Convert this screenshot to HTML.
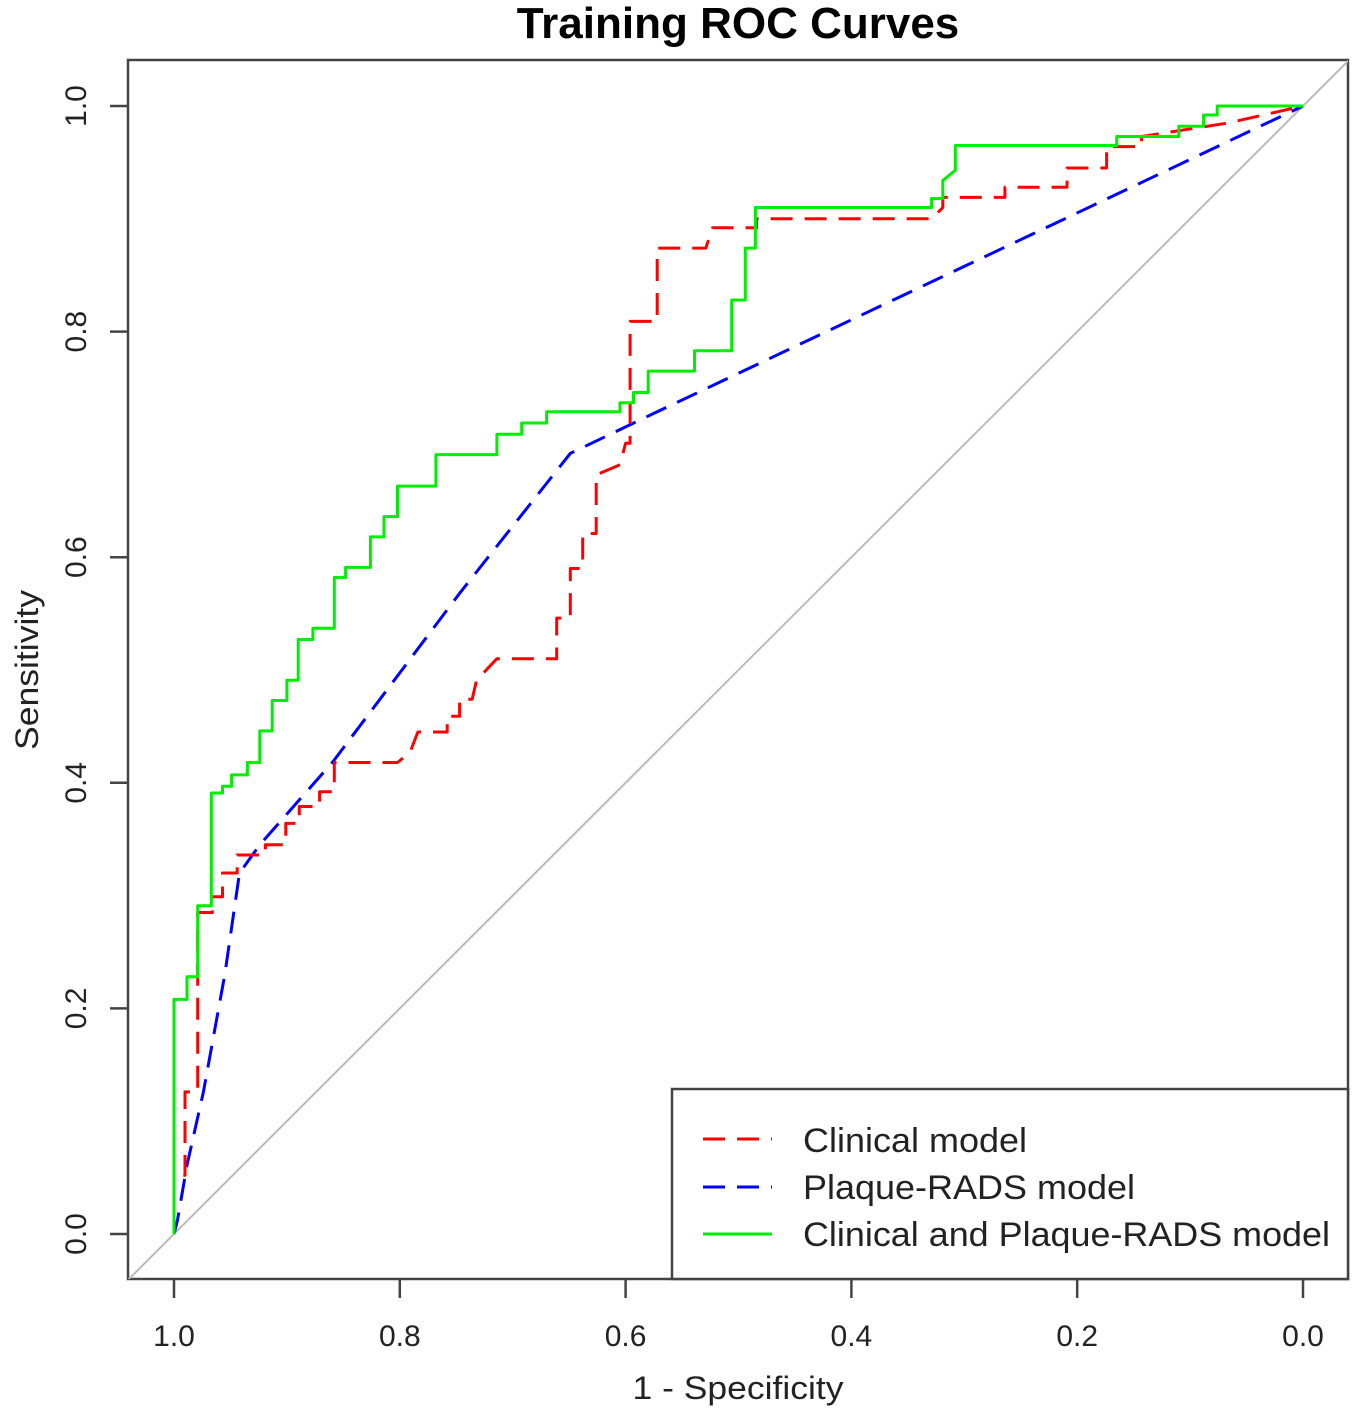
<!DOCTYPE html>
<html><head><meta charset="utf-8"><style>
html,body{margin:0;padding:0;background:#fff;}
svg text{font-family:"Liberation Sans",Arial,sans-serif;fill:#222;}
</style></head><body>
<svg id="chart" width="1356" height="1413" viewBox="0 0 1356 1413" xmlns="http://www.w3.org/2000/svg">
<defs><clipPath id="plotclip"><rect x="128" y="60" width="1220" height="1219"/></clipPath></defs>
<text x="738" y="38" font-size="44" font-weight="bold" text-anchor="middle" style="fill:#000">Training ROC Curves</text>
<rect x="128" y="60" width="1220" height="1219" fill="none" stroke="#444" stroke-width="2.5"/>
<g id="axes"></g>
<line id="diag" stroke="#bbb" stroke-width="2" clip-path="url(#plotclip)"/>
<g id="series" clip-path="url(#plotclip)"></g>
<g>
<rect x="672" y="1089" width="676" height="190" fill="#fff" stroke="#444" stroke-width="2.5"/>
<line x1="703" y1="1139" x2="772" y2="1139" stroke="#ff0000" stroke-width="3" stroke-dasharray="22,12"/>
<text x="803" y="1152" font-size="34" textLength="224" lengthAdjust="spacingAndGlyphs">Clinical model</text>
<line x1="703" y1="1187" x2="772" y2="1187" stroke="#0000ff" stroke-width="3" stroke-dasharray="22,12"/>
<text x="803" y="1199" font-size="34" textLength="332" lengthAdjust="spacingAndGlyphs">Plaque-RADS model</text>
<line x1="703" y1="1234" x2="772" y2="1234" stroke="#00ee00" stroke-width="3"/>
<text x="803" y="1246" font-size="34" textLength="527" lengthAdjust="spacingAndGlyphs">Clinical and Plaque-RADS model</text>
</g>
<text x="738" y="1399" font-size="32" text-anchor="middle" textLength="211" lengthAdjust="spacingAndGlyphs">1 - Specificity</text>
<text transform="translate(38,670) rotate(-90)" font-size="32" text-anchor="middle" textLength="160" lengthAdjust="spacingAndGlyphs">Sensitivity</text>
</svg>
<script>
// false positive rate (1 - specificity) and sensitivity
const xTicks = [1.0, 0.8, 0.6, 0.4, 0.2, 0.0];
const yTicks = [0.0, 0.2, 0.4, 0.6, 0.8, 1.0];
const xTickLabels = ["1.0","0.8","0.6","0.4","0.2","0.0"];
const yTickLabels = ["0.0","0.2","0.4","0.6","0.8","1.0"];
const clinicalFpr = [0,0,.0097,.0097,.021,.021,.034,.034,.043,.043,.056,.056,.081,.081,.099,.099,.111,.111,.129,.129,.142,.142,.198,.209,.216,.242,.242,.253,.253,.264,.268,.286,.339,.339,.351,.351,.362,.362,.374,.374,.395,.400,.404,.404,.428,.428,.471,.477,.516,.516,.671,.681,.681,.736,.736,.791,.791,.826,.826,.857,.857,.934,1];
const clinicalSens = [0,.052,.052,.126,.126,.285,.285,.299,.299,.320,.320,.336,.336,.345,.345,.364,.364,.379,.379,.392,.392,.418,.418,.427,.445,.445,.459,.459,.474,.474,.491,.510,.510,.546,.546,.590,.590,.621,.621,.673,.682,.701,.701,.809,.809,.874,.874,.892,.892,.900,.900,.910,.919,.919,.928,.928,.945,.945,.964,.964,.973,.985,1];
const plaqueFpr = [0,.003,.0115,.026,.045,.058,.076,.141,.253,.351,.424,1];
const plaqueSens = [0,.012,.061,.126,.230,.320,.345,.419,.568,.692,.727,1];
const combinedFpr = [0,0,.0115,.0115,.021,.021,.033,.033,.043,.043,.051,.051,.065,.065,.076,.076,.087,.087,.100,.100,.110,.110,.123,.123,.142,.142,.152,.152,.174,.174,.186,.186,.198,.198,.232,.232,.286,.286,.308,.308,.330,.330,.395,.395,.407,.407,.420,.420,.461,.461,.494,.494,.506,.506,.515,.515,.671,.671,.681,.681,.692,.692,.835,.835,.890,.890,.912,.912,.924,.924,1];
const combinedSens = [0,.208,.208,.228,.228,.291,.291,.391,.391,.397,.397,.407,.407,.418,.418,.446,.446,.473,.473,.491,.491,.527,.527,.537,.537,.582,.582,.591,.591,.618,.618,.636,.636,.663,.663,.691,.691,.709,.709,.719,.719,.729,.729,.737,.737,.746,.746,.765,.765,.783,.783,.828,.828,.874,.874,.910,.910,.918,.918,.934,.943,.965,.965,.973,.973,.982,.982,.992,.992,1,1];

const NS = "http://www.w3.org/2000/svg";
const X0 = 174, X1 = 1303, Y0 = 1234, Y1 = 106;
function xFpr(f){ return X0 + f*(X1-X0); }
function xSpec(s){ return xFpr(1-s); }
function ySens(v){ return Y0 - v*(Y0-Y1); }

const axes = document.getElementById('axes');
function mk(tag, attrs, parent){ const e=document.createElementNS(NS,tag); for(const k in attrs) e.setAttribute(k,attrs[k]); parent.appendChild(e); return e; }

xTicks.forEach((t,i)=>{
  const tk = mk('line',{x1:xSpec(t),y1:1279,x2:xSpec(t),y2:1298,stroke:'#444','stroke-width':2.5},axes);
  
  
  const tl = mk('text',{x:xSpec(t),y:1346,'font-size':30,'text-anchor':'middle'},axes);
  tl.textContent = xTickLabels[i];
  
  
});
yTicks.forEach((t,i)=>{
  const tk = mk('line',{x1:110,y1:ySens(t),x2:128,y2:ySens(t),stroke:'#444','stroke-width':2.5},axes);
  
  
  const tl = mk('text',{transform:`translate(${86},${ySens(t)}) rotate(-90)`,'font-size':30,'text-anchor':'middle'},axes);
  tl.textContent = yTickLabels[i];
  
  
});

const d = document.getElementById('diag');
d.setAttribute('x1', xFpr(-0.1)); d.setAttribute('y1', ySens(-0.1));
d.setAttribute('x2', xFpr(1.1)); d.setAttribute('y2', ySens(1.1));

const series = document.getElementById('series');
function drawLine(fpr, sens, color, dash, name){
  const pts = fpr.map((f,i)=>xFpr(f).toFixed(1)+','+ySens(sens[i]).toFixed(1)).join(' ');
  const p = mk('polyline',{points:pts,fill:'none',stroke:color,'stroke-width':3,'stroke-linejoin':'round'},series);
  if(dash) p.setAttribute('stroke-dasharray',dash);
  
  
}
drawLine(plaqueFpr, plaqueSens, '#0000ff', '22,12', 'plaque-rads-curve');
drawLine(clinicalFpr, clinicalSens, '#ff0000', '22,12', 'clinical-curve');
drawLine(combinedFpr, combinedSens, '#00ee00', null, 'combined-curve');
</script>
</body></html>
